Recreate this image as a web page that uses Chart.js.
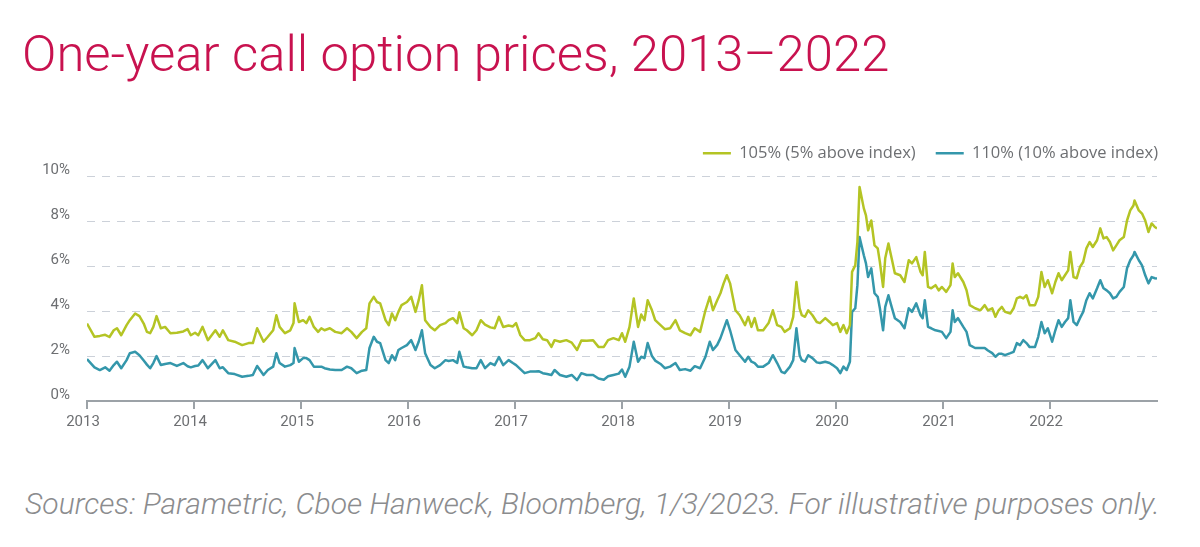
<!DOCTYPE html>
<html>
<head>
<meta charset="utf-8">
<script src="https://cdn.jsdelivr.net/npm/chart.js@4.4.1/dist/chart.umd.min.js"></script>
<style>
  body { margin: 0; background: #fff; width: 1200px; height: 547px; overflow: hidden; position: relative; }
  #title { position: absolute; left: 22px; top: 24px; color: #c8124f; font-family: Roboto, "Open Sans", sans-serif; font-weight: 300; font-size: 50px; white-space: nowrap; }
  #box { position: absolute; left: 0; top: 130px; width: 1200px; height: 315px; }
  #source { position: absolute; left: 25px; top: 486px; color: #8b8c8e; font-family: Roboto, "Open Sans", sans-serif; font-weight: 300; font-style: italic; font-size: 26px; white-space: nowrap; }
</style>
</head>
<body>
<div id="title">One-year call option prices, 2013–2022</div>
<div id="box"><canvas id="calls"></canvas></div>
<div id="source">Sources: Parametric, Cboe Hanweck, Bloomberg, 1/3/2023. For illustrative purposes only.</div>
<script>
// weekly-ish readings, decimal years
const years = [
  2013.00, 2013.07, 2013.12, 2013.17, 2013.21, 2013.25, 2013.28, 2013.32, 2013.37, 2013.40,
  2013.45, 2013.49, 2013.53, 2013.56, 2013.59, 2013.62, 2013.65, 2013.69, 2013.73, 2013.78,
  2013.84, 2013.90, 2013.94, 2013.97, 2014.01, 2014.04, 2014.08, 2014.13, 2014.20, 2014.24,
  2014.27, 2014.32, 2014.38, 2014.45, 2014.51, 2014.55, 2014.59, 2014.65, 2014.69, 2014.74,
  2014.77, 2014.80, 2014.85, 2014.90, 2014.93, 2014.94, 2014.98, 2015.02, 2015.05, 2015.08,
  2015.12, 2015.16, 2015.19, 2015.22, 2015.27, 2015.32, 2015.38, 2015.43, 2015.47, 2015.52,
  2015.57, 2015.61, 2015.64, 2015.68, 2015.71, 2015.74, 2015.79, 2015.82, 2015.85, 2015.88,
  2015.91, 2015.94, 2015.99, 2016.03, 2016.07, 2016.10, 2016.13, 2016.16, 2016.21, 2016.25,
  2016.30, 2016.35, 2016.38, 2016.42, 2016.46, 2016.48, 2016.52, 2016.55, 2016.60, 2016.64,
  2016.68, 2016.72, 2016.77, 2016.81, 2016.85, 2016.89, 2016.94, 2016.98, 2017.01, 2017.05,
  2017.09, 2017.14, 2017.19, 2017.22, 2017.26, 2017.30, 2017.34, 2017.37, 2017.42, 2017.48,
  2017.53, 2017.58, 2017.62, 2017.67, 2017.73, 2017.78, 2017.83, 2017.87, 2017.92, 2017.97,
  2018.00, 2018.03, 2018.07, 2018.11, 2018.15, 2018.18, 2018.21, 2018.24, 2018.28, 2018.31,
  2018.36, 2018.40, 2018.45, 2018.50, 2018.54, 2018.59, 2018.64, 2018.68, 2018.73, 2018.78,
  2018.82, 2018.85, 2018.89, 2018.92, 2018.95, 2018.98, 2019.01, 2019.06, 2019.10, 2019.15,
  2019.18, 2019.21, 2019.24, 2019.27, 2019.32, 2019.37, 2019.41, 2019.45, 2019.49, 2019.52,
  2019.57, 2019.60, 2019.63, 2019.66, 2019.68, 2019.71, 2019.74, 2019.78, 2019.82, 2019.85,
  2019.90, 2019.94, 2019.97, 2020.01, 2020.04, 2020.07, 2020.10, 2020.13, 2020.15, 2020.18,
  2020.20, 2020.22, 2020.26, 2020.28, 2020.30, 2020.33, 2020.36, 2020.39, 2020.41, 2020.44,
  2020.46, 2020.49, 2020.52, 2020.55, 2020.60, 2020.64, 2020.68, 2020.71, 2020.75, 2020.79,
  2020.81, 2020.83, 2020.86, 2020.89, 2020.93, 2020.96, 2020.99, 2021.03, 2021.07, 2021.09,
  2021.11, 2021.14, 2021.19, 2021.22, 2021.25, 2021.30, 2021.35, 2021.39, 2021.42, 2021.46,
  2021.49, 2021.52, 2021.55, 2021.58, 2021.63, 2021.66, 2021.69, 2021.72, 2021.75, 2021.78,
  2021.81, 2021.86, 2021.89, 2021.92, 2021.95, 2021.98, 2022.02, 2022.05, 2022.08, 2022.11,
  2022.14, 2022.17, 2022.19, 2022.22, 2022.25, 2022.28, 2022.31, 2022.34, 2022.37, 2022.40,
  2022.44, 2022.47, 2022.50, 2022.53, 2022.56, 2022.59, 2022.62, 2022.65, 2022.69, 2022.72,
  2022.75, 2022.78, 2022.79, 2022.83, 2022.86, 2022.89, 2022.92, 2022.95, 2022.98, 2023.00
];

// 105% strike (5% above index), in %
const call105 = [
  3.45, 2.86, 2.90, 2.95, 2.85, 3.15, 3.24, 2.93, 3.38, 3.60,
  3.90, 3.78, 3.45, 3.08, 3.02, 3.30, 3.78, 3.24, 3.30, 3.02,
  3.04, 3.10, 3.20, 2.93, 3.04, 2.93, 3.30, 2.71, 3.15, 2.86,
  3.15, 2.71, 2.64, 2.49, 2.58, 2.58, 3.24, 2.64, 2.86, 3.15,
  3.82, 3.30, 3.02, 3.15, 3.47, 4.35, 3.52, 3.60, 3.47, 3.75,
  3.30, 3.08, 3.24, 3.15, 3.24, 3.08, 3.02, 3.24, 3.08, 2.80,
  3.08, 3.24, 4.35, 4.64, 4.41, 4.35, 3.60, 3.38, 3.90, 3.60,
  3.97, 4.27, 4.41, 4.64, 3.97, 4.49, 5.16, 3.60, 3.30, 3.15,
  3.38, 3.47, 3.60, 3.69, 3.47, 3.95, 3.24, 3.15, 2.93, 3.15,
  3.60, 3.40, 3.28, 3.24, 3.75, 3.30, 3.36, 3.32, 3.47, 2.93,
  2.71, 2.71, 2.80, 3.02, 2.75, 2.71, 2.41, 2.71, 2.64, 2.71,
  2.60, 2.27, 2.70, 2.68, 2.71, 2.41, 2.41, 2.71, 2.80, 2.71,
  3.02, 2.64, 3.30, 4.57, 3.30, 3.85, 3.60, 4.49, 4.04, 3.60,
  3.38, 3.20, 3.24, 3.60, 3.15, 3.02, 2.93, 3.24, 3.08, 4.04,
  4.64, 4.04, 4.49, 4.80, 5.24, 5.60, 5.24, 4.04, 3.82, 3.38,
  3.75, 3.30, 3.69, 3.15, 3.15, 3.47, 4.04, 3.38, 3.30, 3.08,
  3.24, 3.75, 5.30, 4.13, 3.82, 3.75, 4.04, 3.82, 3.52, 3.47,
  3.69, 3.52, 3.38, 3.47, 3.08, 3.38, 3.02, 3.38, 5.75, 6.04,
  7.08, 9.53, 8.58, 8.27, 7.60, 8.04, 6.93, 6.80, 6.19, 5.08,
  6.36, 7.02, 6.36, 5.69, 5.60, 5.30, 6.27, 6.13, 6.41, 5.75,
  5.60, 6.64, 5.08, 5.02, 5.16, 4.93, 5.08, 4.86, 5.16, 6.13,
  5.52, 5.69, 5.30, 4.93, 4.27, 4.13, 4.04, 4.27, 4.04, 4.13,
  3.75, 4.04, 4.19, 3.97, 3.90, 4.13, 4.57, 4.64, 4.57, 4.71,
  4.27, 4.27, 4.64, 5.75, 5.08, 5.38, 4.80, 5.30, 5.69, 5.38,
  5.60, 5.82, 6.64, 5.52, 5.47, 5.97, 6.19, 6.80, 7.08, 6.86,
  7.16, 7.69, 7.24, 7.30, 7.08, 6.71, 6.93, 7.16, 7.30, 8.04,
  8.49, 8.71, 8.93, 8.49, 8.35, 8.04, 7.53, 7.91, 7.75, 7.69
];

// 110% strike (10% above index), in %
const call110 = [
  1.87, 1.50, 1.38, 1.50, 1.35, 1.60, 1.75, 1.46, 1.82, 2.13,
  2.19, 2.04, 1.80, 1.62, 1.46, 1.69, 2.00, 1.60, 1.65, 1.69,
  1.56, 1.69, 1.55, 1.50, 1.56, 1.58, 1.82, 1.46, 1.82, 1.46,
  1.50, 1.24, 1.20, 1.08, 1.12, 1.16, 1.56, 1.16, 1.38, 1.53,
  2.13, 1.69, 1.53, 1.60, 1.69, 2.36, 1.75, 1.91, 1.91, 1.82,
  1.53, 1.53, 1.53, 1.46, 1.40, 1.38, 1.38, 1.53, 1.46, 1.24,
  1.35, 1.38, 2.36, 2.86, 2.64, 2.58, 1.82, 1.69, 2.04, 1.82,
  2.27, 2.36, 2.49, 2.71, 2.27, 2.64, 3.15, 2.13, 1.60, 1.46,
  1.60, 1.82, 1.78, 1.82, 1.70, 2.19, 1.53, 1.50, 1.46, 1.46,
  1.82, 1.46, 1.69, 1.60, 1.96, 1.60, 1.82, 1.69, 1.60, 1.42,
  1.24, 1.31, 1.31, 1.33, 1.24, 1.20, 1.16, 1.38, 1.16, 1.08,
  1.16, 0.93, 1.24, 1.16, 1.16, 1.00, 0.95, 1.10, 1.16, 1.22,
  1.40, 1.08, 1.53, 2.64, 1.75, 1.97, 1.91, 2.58, 2.00, 1.80,
  1.65, 1.46, 1.53, 1.69, 1.38, 1.42, 1.35, 1.55, 1.46, 1.97,
  2.64, 2.27, 2.50, 2.80, 3.20, 3.60, 3.15, 2.27, 2.04, 1.75,
  1.97, 1.75, 1.69, 1.53, 1.53, 1.69, 2.04, 1.69, 1.30, 1.24,
  1.53, 1.82, 3.24, 2.04, 1.82, 1.75, 2.04, 1.91, 1.72, 1.69,
  1.75, 1.69, 1.60, 1.46, 1.24, 1.53, 1.38, 1.75, 3.97, 4.13,
  5.16, 7.30, 6.49, 6.13, 5.52, 5.91, 4.80, 4.64, 4.13, 3.15,
  4.19, 4.71, 4.19, 3.69, 3.52, 3.24, 4.13, 3.97, 4.35, 3.82,
  3.69, 4.49, 3.30, 3.24, 3.15, 3.12, 3.08, 2.80, 3.08, 4.04,
  3.52, 3.69, 3.30, 3.08, 2.49, 2.36, 2.36, 2.36, 2.25, 2.13,
  1.97, 2.10, 2.10, 2.04, 2.13, 2.19, 2.58, 2.49, 2.71, 2.58,
  2.40, 2.41, 2.86, 3.52, 3.02, 3.24, 2.64, 3.15, 3.60, 3.30,
  3.52, 3.69, 4.49, 3.52, 3.38, 3.69, 3.97, 4.49, 4.80, 4.57,
  5.02, 5.38, 5.02, 4.93, 4.80, 4.57, 4.64, 4.86, 5.08, 5.91,
  6.27, 6.49, 6.64, 6.27, 6.04, 5.60, 5.24, 5.52, 5.47, 5.45
];

const seriesNames = ['105% (5% above index)', '110% (10% above index)'];
const yTicks = [0, 2, 4, 6, 8, 10];
const xFirst = 2013;
const xLast = 2023;

const GREEN = '#b4c424';
const BLUE = '#3497ab';
const TICK_TEXT = '#6d6f72';
const AXIS = '#9ca2a7';

function fitWidth(el, target) {
  let size = parseFloat(getComputedStyle(el).fontSize);
  el.style.fontSize = (size * target / el.offsetWidth) + 'px';
}
fitWidth(document.getElementById('title'), 868);
fitWidth(document.getElementById('source'), 1135);

function points(values) {
  return values.map((v, i) => ({ x: years[i], y: v }));
}

// nudge the legend so its last label ends flush with the plot's right edge
const legendNudge = {
  id: 'legendNudge',
  afterLayout(chart) {
    let lg = chart.legend;
    lg.left += 21; lg.right += 21;
    lg.top -= 5; lg.bottom -= 5;
  }
};

let ctx = document.getElementById('calls').getContext('2d');
new Chart(ctx, {
  type: 'line',
  data: {
    datasets: [
      { label: seriesNames[0], data: points(call105), borderColor: GREEN, backgroundColor: GREEN, borderWidth: 2.5, borderJoinStyle: 'round', pointRadius: 0, tension: 0 },
      { label: seriesNames[1], data: points(call110), borderColor: BLUE, backgroundColor: BLUE, borderWidth: 2.5, borderJoinStyle: 'round', pointRadius: 0, tension: 0 }
    ]
  },
  plugins: [legendNudge],
  options: {
    responsive: true,
    maintainAspectRatio: false,
    animation: false,
    layout: { padding: { left: 0, right: 43, top: 0, bottom: 0 } },
    plugins: {
      legend: {
        position: 'top',
        align: 'end',
        labels: {
          usePointStyle: true,
          pointStyle: 'line',
          pointStyleWidth: 28,
          color: TICK_TEXT,
          padding: 20,
          font: { family: '"Open Sans", Roboto, sans-serif', size: 16.5 }
        }
      },
      tooltip: { enabled: false }
    },
    scales: {
      x: {
        type: 'linear',
        min: xFirst,
        max: xLast,
        afterFit: s => { s.height = 44; },
        ticks: {
          stepSize: 1,
          padding: 4,
          labelOffset: -4,
          color: TICK_TEXT,
          font: { family: 'Roboto, "Open Sans", sans-serif', size: 15 },
          callback: v => v === xLast ? '' : String(v)
        },
        grid: {
          drawOnChartArea: false,
          drawTicks: true,
          tickLength: 8,
          lineWidth: 2,
          color: c => (c.tick && c.tick.value === xLast) ? 'rgba(0,0,0,0)' : AXIS
        },
        border: { display: true, color: AXIS, width: 2 }
      },
      y: {
        min: 0,
        max: 10,
        afterFit: s => { s.width = 87; },
        afterBuildTicks: s => { s.ticks = yTicks.map(v => ({ value: v })); },
        ticks: {
          padding: 17,
          labelOffset: -6,
          color: TICK_TEXT,
          font: { family: 'Roboto, "Open Sans", sans-serif', size: 15 },
          callback: v => v + '%'
        },
        grid: {
          drawTicks: false,
          lineWidth: 1,
          color: c => c.tick && c.tick.value === 0 ? 'rgba(0,0,0,0)' : '#ccd1d9'
        },
        border: { display: false, dash: [8, 7] }
      }
    }
  }
});
</script>
</body>
</html>
